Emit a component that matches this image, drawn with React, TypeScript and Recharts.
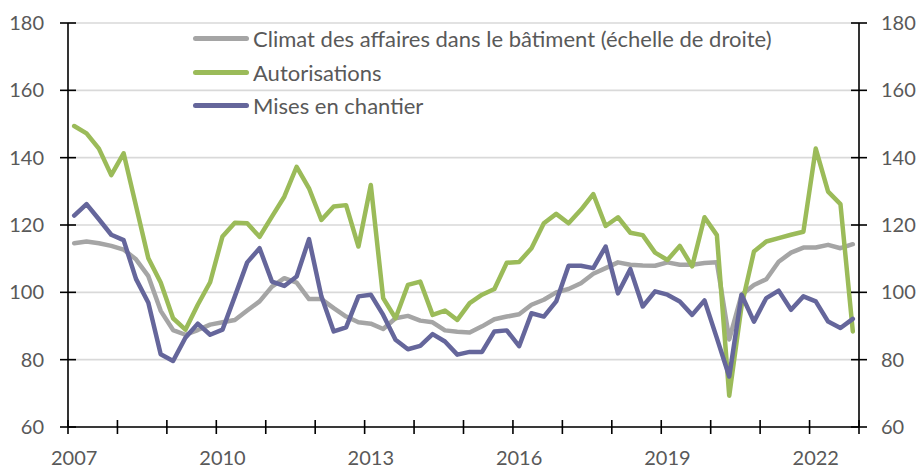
import { LineChart, Line, XAxis, YAxis, CartesianGrid } from 'recharts'

// ─── Données (trimestrielles, 2007T1 → 2022T4) ───────────────────────────────

const YEARS = [
  2007, 2008, 2009, 2010, 2011, 2012, 2013, 2014,
  2015, 2016, 2017, 2018, 2019, 2020, 2021, 2022,
]
const QUARTERS: string[] = YEARS.flatMap((y) => [1, 2, 3, 4].map((q) => `${y}T${q}`))

// Climat des affaires dans le bâtiment (échelle de droite)
const CLIMAT = [
  114.6, 115.1, 114.6, 113.8, 112.7, 109.8, 104.8, 94.5,
  88.8, 87.4, 88.8, 90.4, 91.1, 91.8, 94.6, 97.3,
  101.7, 104.2, 102.9, 98.0, 98.0, 95.3, 92.8, 91.1,
  90.7, 89.1, 92.3, 93.0, 91.6, 91.1, 88.7, 88.3,
  88.1, 89.9, 92.0, 92.8, 93.5, 96.3, 97.8, 100.0,
  101.0, 102.7, 105.5, 107.2, 108.9, 108.2, 108.0, 107.9,
  108.9, 108.2, 108.2, 108.7, 108.9, 86.0, 99.3, 102.2,
  103.9, 109.1, 111.8, 113.3, 113.3, 114.1, 113.1, 114.3,
]

const AUTORISATIONS = [
  149.4, 147.2, 142.7, 134.8, 141.3, 125.7, 110.1, 102.9,
  92.3, 88.9, 96.3, 103.0, 116.6, 120.7, 120.5, 116.5,
  122.5, 128.4, 137.3, 130.9, 121.5, 125.5, 125.9, 113.6,
  131.9, 98.3, 92.3, 102.2, 103.2, 93.3, 94.6, 91.8,
  96.8, 99.3, 101.0, 108.8, 109.0, 113.1, 120.5, 123.3,
  120.5, 124.5, 129.2, 119.7, 122.3, 117.7, 117.0, 111.8,
  109.6, 113.8, 107.7, 122.3, 117.0, 69.3, 96.0, 112.1,
  115.1, 116.1, 117.1, 118.0, 142.7, 129.9, 126.2, 88.4,
]

const MISES_EN_CHANTIER = [
  122.8, 126.2, 121.7, 117.1, 115.5, 104.0, 96.9, 81.6,
  79.6, 86.5, 90.7, 87.4, 88.9, 98.8, 108.9, 113.1,
  103.2, 101.9, 104.7, 115.8, 98.8, 88.4, 89.6, 98.8,
  99.3, 93.3, 85.9, 83.1, 84.1, 87.6, 85.4, 81.5,
  82.3, 82.3, 88.4, 88.7, 84.0, 93.8, 92.8, 97.3,
  107.9, 107.9, 107.2, 113.6, 99.7, 106.9, 95.8, 100.3,
  99.3, 97.3, 93.3, 97.6, 86.4, 75.0, 99.3, 91.3,
  98.3, 100.5, 94.8, 98.8, 97.3, 91.3, 89.4, 92.1,
]

const Y_TICKS = [60, 80, 100, 120, 140, 160, 180]
// libellés de l'axe des abscisses, un tous les 3 ans
const YEAR_LABELS = ['2007', '2010', '2013', '2016', '2019', '2022']

const SERIES = [
  { key: 'climat', label: 'Climat des affaires dans le bâtiment (échelle de droite)', color: '#a5a5a5', axis: 'right' },
  { key: 'autorisations', label: 'Autorisations', color: '#9bbb59', axis: 'left' },
  { key: 'mises', label: 'Mises en chantier', color: '#65669b', axis: 'left' },
]

const data = QUARTERS.map((q, i) => ({
  q,
  x: i + 0.5, // milieu de la catégorie
  climat: CLIMAT[i],
  autorisations: AUTORISATIONS[i],
  mises: MISES_EN_CHANTIER[i],
}))

// graduations : traits tous les ans (4 trimestres), libellés tous les 3 ans au milieu du trimestre
const yearMarks = YEARS.map((_, i) => i * 4).concat([QUARTERS.length])
const labelPos = YEAR_LABELS.map((y) => QUARTERS.indexOf(`${y}T1`) + 0.5)
const X_TICKS = [...yearMarks, ...labelPos].sort((a, b) => a - b)

const FONT = 'Lato, "Open Sans", sans-serif'
const TEXT = '#595959'

// ─── Ticks ────────────────────────────────────────────────────────────────

function XTick({ x, y, payload }: any) {
  const v = payload.value as number
  const idx = labelPos.indexOf(v)
  return (
    <g>
      {Number.isInteger(v) && v % 4 === 0 && (
        <line x1={x} x2={x} y1={y - 7} y2={y + 7} stroke="#000" strokeWidth={1.6} />
      )}
      {idx >= 0 && (
        <text x={x} y={y + 38} textAnchor="middle" fill={TEXT} fontSize={20} fontFamily={FONT}>
          {YEAR_LABELS[idx]}
        </text>
      )}
    </g>
  )
}

function LeftTick({ x, y, payload }: any) {
  return (
    <g>
      <line x1={x - 8} x2={x + 8} y1={y} y2={y} stroke="#000" strokeWidth={1.6} />
      <text x={x - 24} y={y} dy={7} textAnchor="end" fill={TEXT} fontSize={20} fontFamily={FONT}>
        {payload.value}
      </text>
    </g>
  )
}

function RightTick({ x, y, payload }: any) {
  return (
    <g>
      <line x1={x - 8} x2={x + 8} y1={y} y2={y} stroke="#000" strokeWidth={1.6} />
      <text x={x + 22} y={y} dy={7} textAnchor="start" fill={TEXT} fontSize={20} fontFamily={FONT}>
        {payload.value}
      </text>
    </g>
  )
}

// ─── Légende ──────────────────────────────────────────────────────────────

function ChartLegend() {
  return (
    <div style={{ position: 'absolute', left: 193, top: 22, fontFamily: FONT, fontSize: 22, color: TEXT }}>
      {SERIES.map((s) => (
        <div key={s.key} style={{ display: 'flex', alignItems: 'center', height: 33.4, whiteSpace: 'nowrap' }}>
          <span style={{ display: 'inline-block', width: 56, height: 5, borderRadius: 3, background: s.color, marginRight: 4 }} />
          <span>{s.label}</span>
        </div>
      ))}
    </div>
  )
}

// ─── Composant ────────────────────────────────────────────────────────────

export default function App() {
  return (
    <div style={{ position: 'absolute', left: 0, top: 0, width: 921, height: 469, background: '#fff' }}>
      <LineChart width={921} height={469} data={data} margin={{ top: 23, right: 0, bottom: 0, left: 0 }}>
        <CartesianGrid vertical={false} stroke="#d9d9d9" strokeWidth={1.6} yAxisId="left" />
        <XAxis
          dataKey="x"
          type="number"
          domain={[0, QUARTERS.length]}
          ticks={X_TICKS}
          interval={0}
          tick={<XTick />}
          tickLine={false}
          tickSize={0}
          tickMargin={0}
          height={42}
          axisLine={{ stroke: '#000', strokeWidth: 1.6 }}
        />
        <YAxis
          yAxisId="left"
          domain={[60, 180]}
          ticks={Y_TICKS}
          interval={0}
          width={68}
          tick={<LeftTick />}
          tickLine={false}
          tickSize={0}
          tickMargin={0}
          axisLine={{ stroke: '#000', strokeWidth: 1.6 }}
        />
        <YAxis
          yAxisId="right"
          orientation="right"
          domain={[60, 180]}
          ticks={Y_TICKS}
          interval={0}
          width={62}
          tick={<RightTick />}
          tickLine={false}
          tickSize={0}
          tickMargin={0}
          axisLine={{ stroke: '#000', strokeWidth: 1.6 }}
        />
        {SERIES.map((s) => (
          <Line
            key={s.key}
            yAxisId={s.axis}
            dataKey={s.key}
            type="linear"
            stroke={s.color}
            strokeWidth={4.5}
            strokeLinejoin="round"
            strokeLinecap="round"
            dot={false}
            activeDot={false}
            isAnimationActive={false}
          />
        ))}
      </LineChart>
      <ChartLegend />
    </div>
  )
}
